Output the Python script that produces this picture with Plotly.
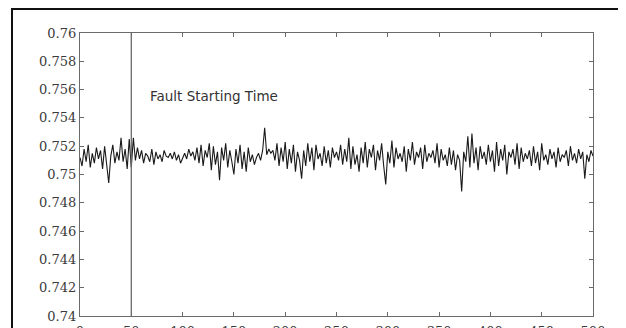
import plotly.graph_objects as go

# ---- data ----
time_step = 2
signal = [
    0.7512, 0.7506, 0.7518, 0.7509, 0.7521, 0.7505, 0.7515, 0.7508, 0.7519, 0.7511,
    0.7517, 0.7504, 0.7520, 0.7507, 0.7494, 0.7513, 0.7521, 0.7508, 0.7516, 0.7510,
    0.7526, 0.7509, 0.7518, 0.7504, 0.7525, 0.7505, 0.7526, 0.7510, 0.7519, 0.7511,
    0.7517, 0.7508, 0.7515, 0.7513, 0.7509, 0.7518, 0.7507, 0.7516, 0.7511, 0.7514,
    0.7509, 0.7517, 0.7513, 0.7512, 0.7515, 0.7511, 0.7516, 0.7510, 0.7514, 0.7508,
    0.7512, 0.7515, 0.7511, 0.7518, 0.7513, 0.7516, 0.7510, 0.7519, 0.7508, 0.7521,
    0.7506, 0.7517, 0.7512, 0.7522, 0.7503, 0.7520, 0.7507, 0.7516, 0.7496, 0.7519,
    0.7510, 0.7522, 0.7505, 0.7517, 0.7509, 0.7500, 0.7518, 0.7508, 0.7521, 0.7504,
    0.7516, 0.7502, 0.7519, 0.7509, 0.7514, 0.7507, 0.7512, 0.7515, 0.7510, 0.7517,
    0.7533, 0.7514, 0.7518, 0.7515, 0.7517, 0.7510, 0.7522, 0.7506, 0.7519, 0.7509,
    0.7523, 0.7504, 0.7518, 0.7508, 0.7521, 0.7502, 0.7516, 0.7510, 0.7497, 0.7517,
    0.7506, 0.7522, 0.7509, 0.7519, 0.7503, 0.7521, 0.7511, 0.7515, 0.7506, 0.7520,
    0.7508, 0.7517, 0.7505, 0.7519, 0.7512, 0.7516, 0.7510, 0.7521, 0.7507, 0.7518,
    0.7509, 0.7526, 0.7504, 0.7520, 0.7507, 0.7514, 0.7502, 0.7519, 0.7508, 0.7523,
    0.7505, 0.7518, 0.7512, 0.7521, 0.7503, 0.7517, 0.7510, 0.7522, 0.7506, 0.7493,
    0.7516, 0.7508, 0.7524, 0.7505, 0.7519, 0.7511, 0.7515, 0.7509, 0.7520, 0.7502,
    0.7518, 0.7510, 0.7523, 0.7507, 0.7516, 0.7512, 0.7519, 0.7504, 0.7521, 0.7509,
    0.7515, 0.7512, 0.7517, 0.7508, 0.7522, 0.7505, 0.7518, 0.7510, 0.7514, 0.7506,
    0.7519, 0.7507, 0.7517, 0.7503, 0.7514, 0.7510, 0.7488, 0.7516, 0.7509, 0.7527,
    0.7505, 0.7529, 0.7508, 0.7519, 0.7503, 0.7520, 0.7511, 0.7516, 0.7507, 0.7521,
    0.7509, 0.7517, 0.7502, 0.7523, 0.7506, 0.7518, 0.7510, 0.7521, 0.7500, 0.7516,
    0.7512, 0.7518, 0.7507, 0.7522, 0.7504, 0.7519, 0.7509, 0.7515, 0.7511, 0.7517,
    0.7506, 0.7520, 0.7508, 0.7516, 0.7503, 0.7522, 0.7510, 0.7514, 0.7507, 0.7518,
    0.7511, 0.7516, 0.7505, 0.7519, 0.7509, 0.7514, 0.7512, 0.7517, 0.7506, 0.7520,
    0.7510, 0.7515, 0.7508, 0.7518, 0.7511, 0.7516, 0.7497, 0.7514, 0.7509, 0.7517,
    0.7513,
]
time = [i * time_step for i in range(len(signal))]

fault_time = 50
fault_label = "Fault Starting Time"
fault_label_x = 66
fault_label_y = 0.75555

x_tick_vals = [0, 50, 100, 150, 200, 250, 300, 350, 400, 450, 500]
x_tick_text = ["0", "50", "100", "150", "200", "250", "300", "350", "400", "450", "500"]
y_tick_vals = [0.74, 0.742, 0.744, 0.746, 0.748, 0.75, 0.752, 0.754, 0.756, 0.758, 0.76]
y_tick_text = ["0.74", "0.742", "0.744", "0.746", "0.748", "0.75", "0.752", "0.754", "0.756", "0.758", "0.76"]

# ---- figure ----
# the page body has an 8px margin, so the figure is drawn from (8, 8)
OFF = 8
W, H = 626 - OFF, 328 - OFF
ML, MR, MT, MB = 80 - OFF, 33, 33 - OFF, 12
pw, ph = W - ML - MR, H - MT - MB

fig = go.Figure()
fig.add_trace(go.Scatter(
    x=time, y=signal, mode="lines",
    line=dict(color="#1a1a1a", width=1.1),
    showlegend=False, hoverinfo="skip",
))

axis_color = "#6a6a6a"
tick_font = dict(family="DejaVu Serif", size=13, color="#3a3a3a")

fig.update_xaxes(
    range=[0, 500], tickvals=x_tick_vals, ticktext=x_tick_text,
    showgrid=False, zeroline=False, showline=True, linecolor=axis_color, linewidth=1.3,
    mirror="ticks", ticks="inside", ticklen=4, tickcolor=axis_color, tickwidth=1,
    tickfont=tick_font, automargin=False, ticklabelstandoff=3,
)
fig.update_yaxes(
    range=[0.74, 0.76], tickvals=y_tick_vals, ticktext=y_tick_text,
    showgrid=False, zeroline=False, showline=True, linecolor=axis_color, linewidth=1.3,
    mirror="ticks", ticks="inside", ticklen=4, tickcolor=axis_color, tickwidth=1,
    tickfont=tick_font, automargin=False,
)

# fault starting time marker
fig.add_shape(type="line", xref="x", yref="paper", x0=fault_time, x1=fault_time, y0=0, y1=1,
              line=dict(color="#6a6a6a", width=1.3))

# outer frame of the original figure (cut by the image edges)
fig.add_shape(type="rect", xref="paper", yref="paper",
              x0=(12 - OFF - ML) / pw, x1=(W + 20 - ML) / pw,
              y0=-(MB + 20) / ph, y1=(H - MB - 1) / ph,
              line=dict(color="#111111", width=2), fillcolor="rgba(0,0,0,0)", layer="below")

fig.add_annotation(
    x=fault_label_x, y=fault_label_y, xref="x", yref="y",
    text=fault_label, showarrow=False, xanchor="left", yanchor="middle",
    font=dict(family="DejaVu Sans", size=13.5, color="#333333"),
)

fig.update_layout(
    width=W, height=H,
    margin=dict(l=ML, r=MR, t=MT, b=MB, autoexpand=False),
    paper_bgcolor="white", plot_bgcolor="white",
)

fig.write_html("out.html")
